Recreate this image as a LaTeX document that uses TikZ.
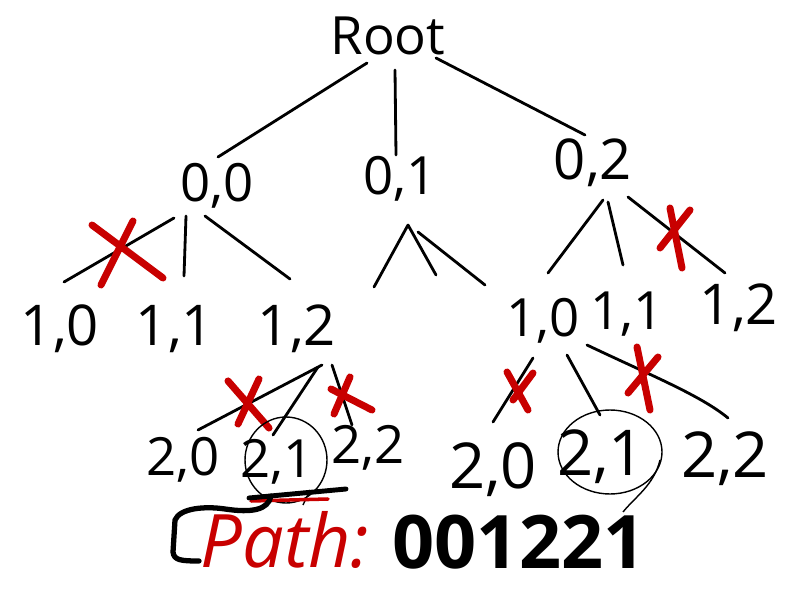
\documentclass[tikz,border=0pt]{standalone}
\usepackage{fontspec}
\setmainfont{Open Sans}
\definecolor{hred}{RGB}{200,0,0}
\begin{document}
\begin{tikzpicture}[x=0.02cm,y=-0.02cm,
  lbl/.style={inner sep=0pt,anchor=base,font=\fontsize{32}{36}\selectfont},
  smalllbl/.style={inner sep=0pt,anchor=base,font=\fontsize{30}{34}\selectfont},
  biglbl/.style={inner sep=0pt,anchor=base,font=\fontsize{36}{40}\selectfont},
  edge/.style={line width=1.6pt,line cap=round},
  cross/.style={hred,line width=4pt,line cap=round},
  ring/.style={line width=0.8pt}]
\useasboundingbox (0,0) rectangle (800,607);
% nodes
\node[smalllbl] (root) at (388,55) {Root};
\node[smalllbl] (a0) at (217,202) {0,0};
\node[smalllbl] (a1) at (400,195) {0,1};
\node[lbl] (a2) at (593,180) {0,2};
\node[lbl] (b0) at (60,345) {1,0};
\node[lbl] (b1) at (175,345) {1,1};
\node[lbl] (b2) at (297,345) {1,2};
\node[smalllbl] (c0) at (543,337) {1,0};
\node[smalllbl] (c1) at (627,330) {1,1};
\node[lbl] (c2) at (739,325) {1,2};
\node[smalllbl] (d0) at (183,475) {2,0};
\node[smalllbl] (d1) at (277,477) {2,1};
\node[smalllbl] (d2) at (368,463) {2,2};
\node[biglbl] (e0) at (493,488) {2,0};
\node[biglbl] (e1) at (601,475) {2,1};
\node[biglbl] (e2) at (725,477) {2,2};
\node[inner sep=0pt,anchor=base,text=hred,font=\fontsize{42}{46}\selectfont\itshape] (pathlbl) at (285,567) {Path:};
\node[inner sep=0pt,anchor=base,font=\fontsize{42}{46}\selectfont\bfseries] (num) at (519,568) {001221};
% edges
\draw[edge] ([shift={(-21,8)}]root.base) -- ([shift={(1,-45)}]a0.base);
\draw[edge] ([shift={(7,15)}]root.base) -- ([shift={(-4,-40)}]a1.base);
\draw[edge] ([shift={(48,3)}]root.base) -- ([shift={(-8,-45)}]a2.base);
\draw[edge] ([shift={(-43,16)}]a0.base) -- ([shift={(4,-63)}]b0.base);
\draw[edge] ([shift={(-31,14)}]a0.base) -- ([shift={(9,-69)}]b1.base);
\draw[edge] ([shift={(-12,14)}]a0.base) -- ([shift={(-7,-66)}]b2.base);
\draw[edge] ([shift={(8,30)}]a1.base) coordinate (apex) -- ++(-34,62);
\draw[edge] (apex) -- ++(28,50);
\draw[edge] ([shift={(18,37)}]a1.base) -- ++(67,53);
\draw[edge] ([shift={(10,20)}]a2.base) -- ([shift={(5,-64)}]c0.base);
\draw[edge] ([shift={(15,22)}]a2.base) -- ([shift={(-4,-65)}]c1.base);
\draw[edge] ([shift={(35,17)}]a2.base) -- ([shift={(-14,-52)}]c2.base);
\draw[edge] ([shift={(25,20)}]b2.base) -- ([shift={(15,-45)}]d0.base);
\draw[edge] ([shift={(21,22)}]b2.base) -- ([shift={(-4,-42)}]d1.base);
\draw[edge] ([shift={(35,20)}]b2.base) -- ([shift={(-16,-38)}]d2.base);
\draw[edge] ([shift={(-10,21)}]c0.base) -- ([shift={(0,-66)}]e0.base);
\draw[edge] ([shift={(24,18)}]c0.base) -- ([shift={(-1,-60)}]e1.base);
\draw[edge] ([shift={(44,8)}]c0.base) .. controls (650,375) and (700,395) .. ([shift={(3,-59)}]e2.base);
% red crosses
\draw[cross] (92,225) -- (163,278) (133,221) -- (101,285);
\draw[cross] (690,210) -- (660,248) (670,208) -- (682,268);
\draw[cross] (228,381) -- (269,428) (259,379) -- (238,424);
\draw[cross] (331,389) -- (372,410) (350,377) -- (334,414);
\draw[cross] (507,372) -- (528,410) (533,373) -- (513,400);
\draw[cross] (637,347) -- (650,410) (658,357) -- (628,393);
% rings
\draw[ring] ([shift={(9,-17)}]d1.base) ellipse [x radius=0.82cm, y radius=0.86cm];
\draw[ring] ([shift={(33,13)}]d1.base) -- ++(-7,15);
\draw[ring] ([shift={(9,-23)}]e1.base) ellipse [x radius=1.04cm, y radius=0.84cm];
\draw[ring] ([shift={(59,-15)}]e1.base) .. controls +(-6,25) and +(12,-15) .. ++(-37,52);
% underline and bracket
\draw[hred,line width=2pt,line cap=round] ([shift={(-26,24)}]d1.base) -- ++(77,-2);
\draw[line width=2.8pt,line cap=round] ([shift={(-28,21)}]d1.base) -- ++(97,-9);
\draw[line width=3pt,line cap=round,line join=round] ([shift={(-6,19)}]d1.base)
  .. controls (268,510) and (252,513) .. (225,509)
  .. controls (205,506) and (180,508) .. (175,520)
  -- (173,552) .. controls (174,560) and (180,561) .. ([shift={(-86,-6)}]pathlbl.base);
\end{tikzpicture}
\end{document}
